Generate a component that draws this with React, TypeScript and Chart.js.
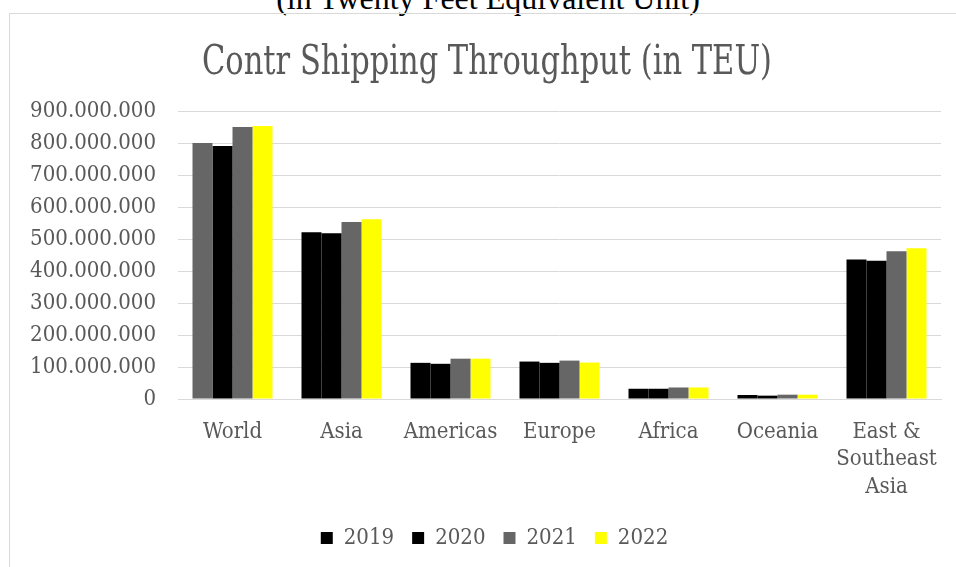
import React, { useEffect, useRef } from "react";
import { Chart, registerables } from "chart.js";

Chart.register(...registerables);

// ---- data ----
const categories: (string | string[])[] = [
  "World",
  "Asia",
  "Americas",
  "Europe",
  "Africa",
  "Oceania",
  ["East &", "Southeast", "Asia"],
];
const seriesNames = ["2019", "2020", "2021", "2022"];
const values2019 = [800e6, 521e6, 113e6, 117e6, 32e6, 12.5e6, 436e6];
const values2020 = [791e6, 518e6, 110e6, 113e6, 32e6, 10.5e6, 432e6];
const values2021 = [850e6, 553e6, 126e6, 120e6, 36e6, 13.5e6, 462e6];
const values2022 = [853e6, 562e6, 126e6, 114e6, 36e6, 13.5e6, 471e6];
const yMin = 0;
const yMax = 900e6;
const yStep = 100e6;
const chartTitle = "Contr Shipping Throughput (in TEU)";
const headerText = "(in Twenty Feet Equivalent Unit)";

// ---- styles ----
const FONT = '"DejaVu Serif Condensed", "DejaVu Serif", serif';
const TEXT_GREY = "#595959";
const GRID_GREY = "#d9d9d9";
const BLACK = "#000000";
const DARK_GREY = "#666666";
const YELLOW = "#ffff00";
const seriesColors = [BLACK, BLACK, DARK_GREY, YELLOW];
const LEGEND_SHIFT = 19;

const fmt = (v: number) =>
  String(Math.round(v)).replace(/\B(?=(\d{3})+(?!\d))/g, ".");

const titlePlugin = {
  id: "condensedTitle",
  afterLayout(chart: any) {
    const lg = chart.legend;
    if (lg) {
      lg.left += LEGEND_SHIFT;
      lg.right += LEGEND_SHIFT;
    }
  },
  afterDraw(chart: any) {
    const ctx = chart.ctx as CanvasRenderingContext2D;
    ctx.save();
    ctx.font = `41px ${FONT}`;
    ctx.fillStyle = TEXT_GREY;
    ctx.textAlign = "center";
    ctx.textBaseline = "alphabetic";
    ctx.fillText(chartTitle, 477, 60, 570);
    ctx.restore();
  },
};

export default function App() {
  const ref = useRef<HTMLCanvasElement | null>(null);

  useEffect(() => {
    if (!ref.current) return;
    Chart.defaults.font.family = FONT;
    const color2019 = (c: any) =>
      c.type === "data" && c.dataIndex === 0 ? DARK_GREY : BLACK;
    const defaultLabels = Chart.defaults.plugins.legend.labels.generateLabels;
    const chart = new Chart(ref.current, {
      type: "bar",
      data: {
        labels: categories as any,
        datasets: [
          { label: seriesNames[0], data: values2019, backgroundColor: color2019 as any },
          { label: seriesNames[1], data: values2020, backgroundColor: seriesColors[1] },
          { label: seriesNames[2], data: values2021, backgroundColor: seriesColors[2] },
          { label: seriesNames[3], data: values2022, backgroundColor: seriesColors[3] },
        ],
      },
      plugins: [titlePlugin],
      options: {
        animation: false,
        responsive: false,
        devicePixelRatio: 1,
        layout: { padding: { top: 97, right: 74, left: 0, bottom: 8 } },
        datasets: {
          bar: { categoryPercentage: 0.734, barPercentage: 1, borderWidth: 0 },
        },
        plugins: {
          title: { display: false },
          tooltip: { enabled: false },
          legend: {
            position: "bottom",
            labels: {
              boxWidth: 12,
              boxHeight: 12,
              padding: 18,
              color: TEXT_GREY,
              font: { size: 22, family: FONT },
              generateLabels: (ch: any) => {
                const items = defaultLabels(ch);
                items.forEach((it: any, i: number) => {
                  it.fillStyle = seriesColors[i];
                  it.strokeStyle = seriesColors[i];
                  it.lineWidth = 0;
                });
                return items;
              },
            },
          },
        },
        scales: {
          x: {
            grid: { display: false, drawTicks: false },
            border: { display: true, color: GRID_GREY, width: 1 },
            ticks: {
              color: TEXT_GREY,
              font: { size: 22, family: FONT, lineHeight: 1.26 },
              padding: 19,
              maxRotation: 0,
              autoSkip: false,
            },
            afterFit: (s: any) => {
              s.height = 110;
            },
          },
          y: {
            min: yMin,
            max: yMax,
            grid: { color: GRID_GREY, lineWidth: 1, drawTicks: false },
            border: { display: false },
            ticks: {
              stepSize: yStep,
              color: TEXT_GREY,
              font: { size: 22, family: FONT },
              padding: 22,
              callback: (v: any) => fmt(Number(v)),
            },
            afterFit: (s: any) => {
              s.width = 168;
            },
          },
        },
      },
    });
    return () => chart.destroy();
  }, []);

  return (
    <div
      style={{
        position: "fixed",
        inset: 0,
        overflow: "hidden",
        background: "#ffffff",
      }}
    >
      <div
        style={{
          position: "absolute",
          top: -18,
          left: 0,
          width: 976,
          textAlign: "center",
          fontFamily: '"Liberation Serif", "Times New Roman", serif',
          fontSize: 32,
          lineHeight: "32px",
          color: "#000",
          whiteSpace: "nowrap",
        }}
      >
        {headerText}
      </div>
      <div
        style={{
          position: "absolute",
          left: 9,
          top: 13,
          width: 1010,
          height: 570,
          border: `1px solid ${GRID_GREY}`,
        }}
      >
        <canvas ref={ref} width={1005} height={553} style={{ display: "block" }} />
      </div>
    </div>
  );
}
